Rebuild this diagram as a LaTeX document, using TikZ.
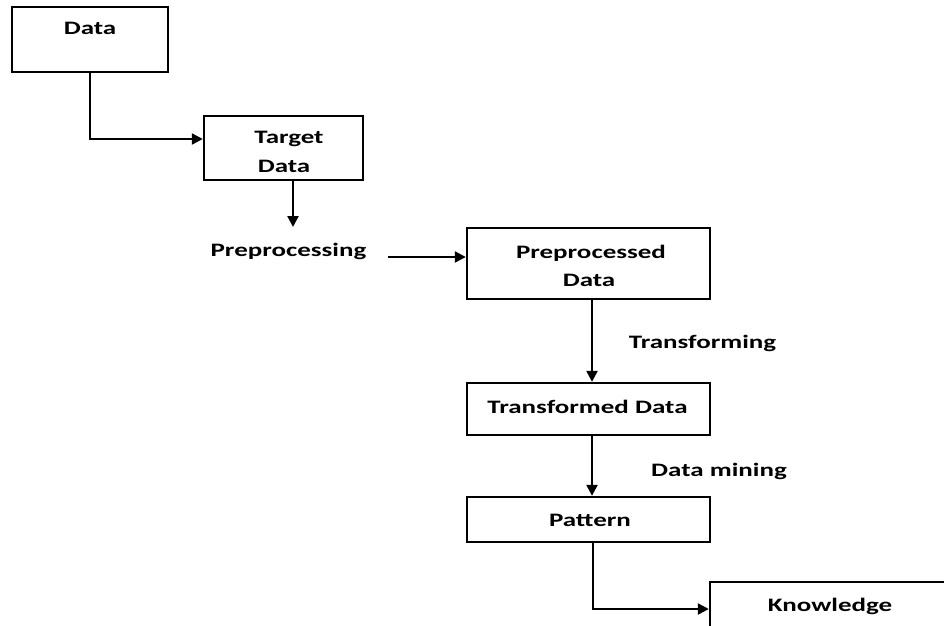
\documentclass[tikz,border=0pt]{standalone}
\usepackage{fontspec}
\setmainfont{Carlito}[FakeStretch=1.42]
\usetikzlibrary{arrows.meta}
\begin{document}
\begin{tikzpicture}[x=1pt,y=-1pt,
  box/.style={draw=black,line width=2.4pt,rectangle,inner sep=0pt},
  lbl/.style={inner sep=0pt,anchor=base,font=\fontsize{19}{23}\selectfont\bfseries},
  arr/.style={line width=2.3pt,-{Triangle[length=11pt,width=11pt]}}]
\useasboundingbox (0,0) rectangle (944,625);
\clip (0,0) rectangle (944,625);
\fill[white] (0,0) rectangle (944,625);
% boxes
\node[box,minimum width=156pt,minimum height=65pt] (data) at (90,39.5) {};
\node[box,minimum width=159pt,minimum height=64pt] (target) at (283.5,148) {};
\node[box,minimum width=243pt,minimum height=71pt] (preproc) at (588.5,263.5) {};
\node[box,minimum width=243pt,minimum height=52pt] (transf) at (588.5,409) {};
\node[box,minimum width=243pt,minimum height=45pt] (pattern) at (588.5,519.5) {};
\node[box,minimum width=260pt,minimum height=54pt] (know) at (840,609) {};
% texts
\node[lbl] (tdata) at (90,34) {Data};
\node[lbl] (ttarget1) at (289,143) {Target};
\node[lbl] (ttarget2) at (284,172) {Data};
\node[lbl] (tprep) at (288.5,256) {Preprocessing};
\node[lbl] (tpre1) at (591,258) {Preprocessed};
\node[lbl] (tpre2) at (589,286) {Data};
\node[lbl] (ttrans) at (702.5,348) {Transforming};
\node[lbl] (ttd) at (587.5,413) {Transformed Data};
\node[lbl] (tmine) at (719,476) {Data mining};
\node[lbl] (tpat) at (590,526) {Pattern};
\node[lbl] (tknow) at (830,611) {Knowledge};
% connector ends
\coordinate (c1) at (293,227);
\coordinate (c2) at (388,257);
% connectors
\draw[arr] (data.south) |- ([yshift=9pt]target.west);
\draw[arr] ([xshift=9.5pt]target.south) -- (c1);
\draw[arr] (c2) -- (c2 -| preproc.west);
\draw[arr] ([xshift=3.5pt]preproc.south) -- ([xshift=3.5pt]transf.north);
\draw[arr] ([xshift=3.5pt]transf.south) -- ([xshift=3.5pt]pattern.north);
\draw[arr] ([xshift=4.5pt]pattern.south) |- (know.west);
\end{tikzpicture}
\end{document}
